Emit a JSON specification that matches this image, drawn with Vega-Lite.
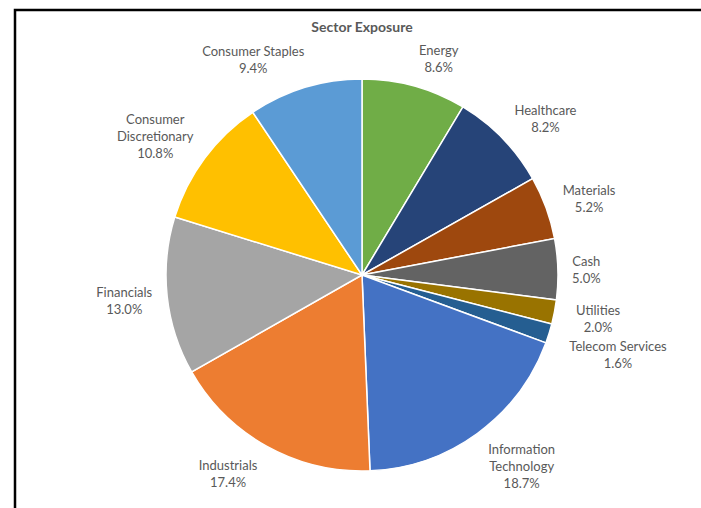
{
  "$schema": "https://vega.github.io/schema/vega-lite/v6.json",
  "width": 694,
  "height": 530,
  "padding": {"left": 15, "top": 10, "right": 0, "bottom": 0},
  "background": "white",
  "view": {"stroke": "#000000", "strokeWidth": 2.5},
  "config": {"view": {"stroke": "#000000", "strokeWidth": 2.5}, "style": {"cell": {"stroke": "#000000", "strokeWidth": 2.5}}},
  "title": {"text": "Sector Exposure", "offset": -36, "baseline": "alphabetic", "anchor": "middle", "frame": "group", "fontSize": 14, "font": "Lato", "fontWeight": "bold", "color": "#595959"},
  "data": {"values": [
    {"rank": 1, "sector": "Energy", "label": "Energy\n8.6%", "value": 8.6},
    {"rank": 2, "sector": "Healthcare", "label": "Healthcare\n8.2%", "value": 8.2},
    {"rank": 3, "sector": "Materials", "label": "Materials\n5.2%", "value": 5.2},
    {"rank": 4, "sector": "Cash", "label": "Cash\n5.0%", "value": 5.0},
    {"rank": 5, "sector": "Utilities", "label": "Utilities\n2.0%", "value": 2.0},
    {"rank": 6, "sector": "Telecom Services", "label": "Telecom Services\n1.6%", "value": 1.6},
    {"rank": 7, "sector": "Information Technology", "label": "Information\nTechnology\n18.7%", "value": 18.7},
    {"rank": 8, "sector": "Industrials", "label": "Industrials\n17.4%", "value": 17.4},
    {"rank": 9, "sector": "Financials", "label": "Financials\n13.0%", "value": 13.0},
    {"rank": 10, "sector": "Consumer Discretionary", "label": "Consumer\nDiscretionary\n10.8%", "value": 10.8},
    {"rank": 11, "sector": "Consumer Staples", "label": "Consumer Staples\n9.4%", "value": 9.4}
  ]},
  "encoding": {
    "theta": {"field": "value", "type": "quantitative", "stack": true},
    "order": {"field": "rank", "type": "quantitative"}
  },
  "layer": [
    {
      "mark": {"type": "arc", "outerRadius": 196, "stroke": "#ffffff", "strokeWidth": 1.5},
      "encoding": {
        "color": {"field": "sector", "type": "nominal", "legend": null,
          "scale": {
            "domain": ["Energy", "Healthcare", "Materials", "Cash", "Utilities", "Telecom Services", "Information Technology", "Industrials", "Financials", "Consumer Discretionary", "Consumer Staples"],
            "range": ["#70AD47", "#264478", "#9E480E", "#636363", "#997300", "#255E91", "#4472C4", "#ED7D31", "#A5A5A5", "#FFC000", "#5B9BD5"]
          }}
      }
    },
    {
      "transform": [
        {"joinaggregate": [{"op": "sum", "field": "value", "as": "total"}]},
        {"window": [{"op": "sum", "field": "value", "as": "cum"}], "sort": [{"field": "rank"}], "frame": [null, 0]},
        {"calculate": "(datum.cum - datum.value / 2) / datum.total * 2 * PI", "as": "ang"},
        {"calculate": "length(split(datum.label, '\\n'))", "as": "nl"},
        {"calculate": "max(length(split(datum.label, '\\n')[0]), length(split(datum.label, '\\n')[1] || ''), length(split(datum.label, '\\n')[2] || ''))", "as": "nc"}
      ],
      "mark": {"type": "text", "font": "Lato", "fontSize": 13, "color": "#595959", "lineBreak": "\n", "lineHeight": 17, "align": "center", "baseline": "middle",
        "radius": 210,
        "dx": {"expr": "(sin(datum.ang) >= 0 ? 1 : -1) * datum.nc * 3.1 + (datum.value < 1.8 ? 4 : 0) + 2"},
        "dy": {"expr": "-cos(datum.ang) * (datum.nl * 8.5 - 1) - (datum.nl - 1) * 8.5 + 2 + (datum.value < 1.8 ? 11 : 0)"}
      },
      "encoding": {
        "text": {"field": "label", "type": "nominal"}
      }
    }
  ]
}
